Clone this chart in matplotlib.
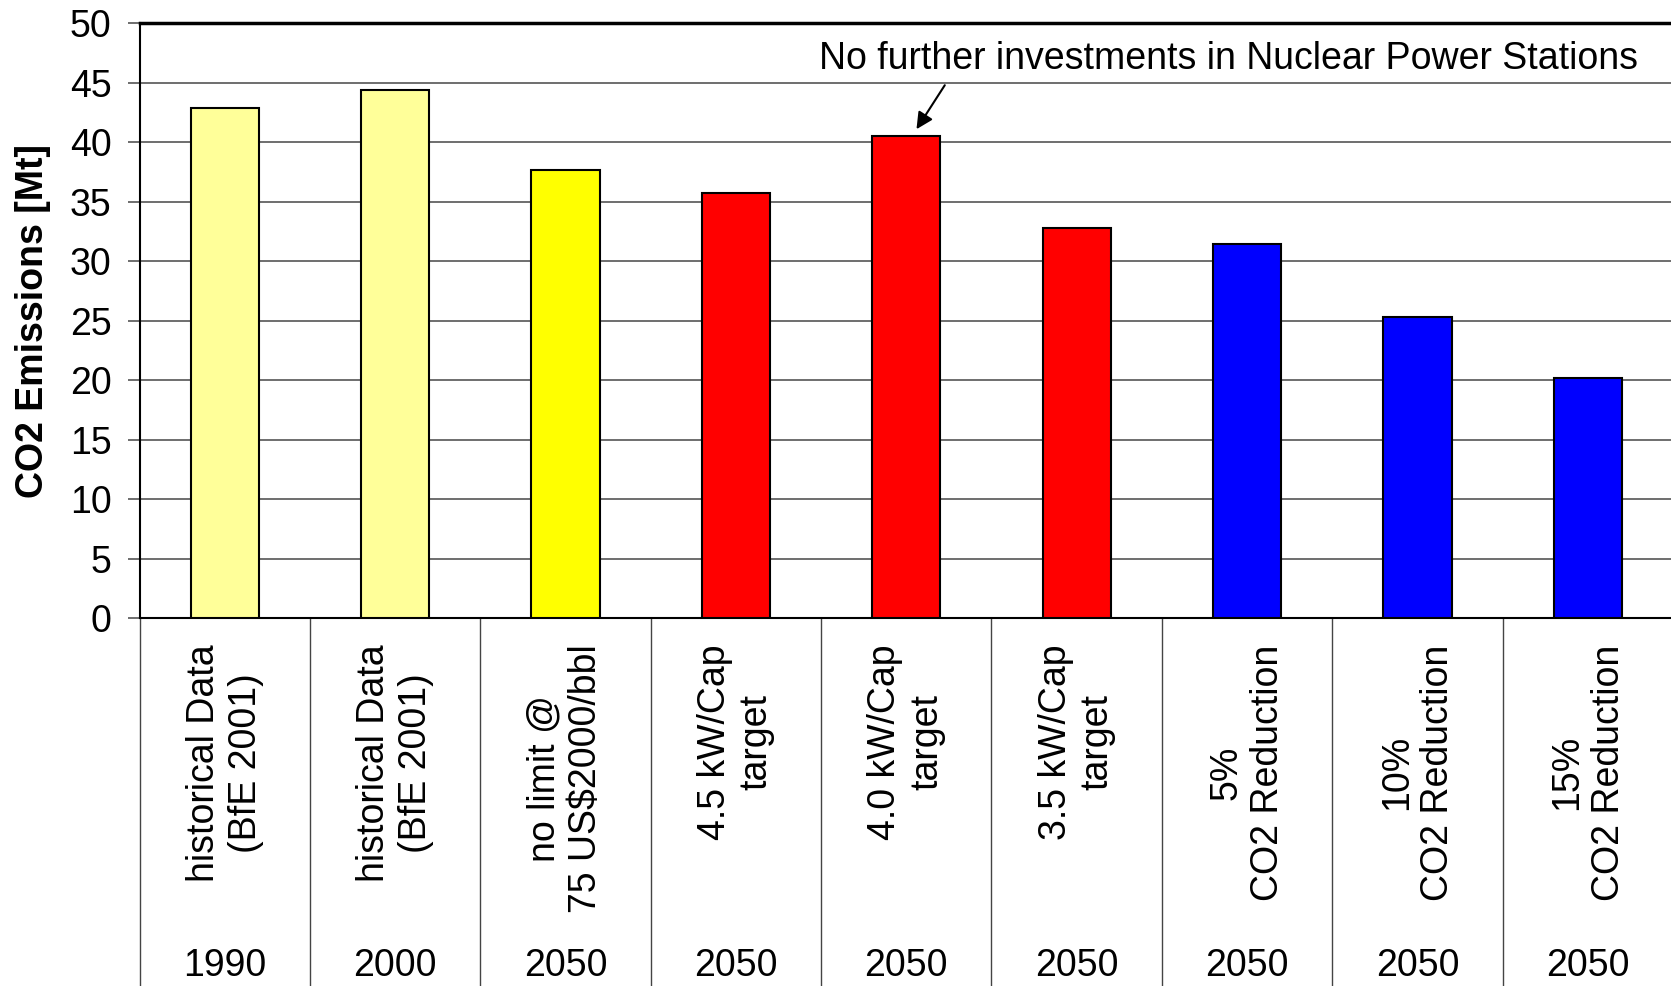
import numpy as np
import matplotlib
matplotlib.use("Agg")
import matplotlib.pyplot as plt

plt.rcParams['font.family'] = ['Liberation Sans', 'DejaVu Sans']

labels = ['historical Data\n(BfE 2001)', 'historical Data\n(BfE 2001)',
          'no limit @\n75 US$2000/bbl', '4.5 kW/Cap\ntarget', '4.0 kW/Cap\ntarget',
          '3.5 kW/Cap\ntarget', '5%\nCO2 Reduction', '10%\nCO2 Reduction',
          '15%\nCO2 Reduction']
years = ['1990', '2000', '2050', '2050', '2050', '2050', '2050', '2050', '2050']
emissions = [42.9, 44.4, 37.7, 35.7, 40.5, 32.8, 31.45, 25.3, 20.15]
colors = ['#FFFF99', '#FFFF99', '#FFFF00', '#FF0000', '#FF0000', '#FF0000',
          '#0000FF', '#0000FF', '#0000FF']

fig = plt.figure(figsize=(16.71, 9.86), dpi=100)
ax = fig.add_axes([0.0835, 0.3732, 0.9177, 0.6031])

x = np.arange(len(labels))
ax.bar(x, emissions, width=0.4, color=colors, edgecolor='black', linewidth=1.5, zorder=3)

ax.set_xlim(-0.5, len(labels) - 0.5)
ax.set_ylim(0, 50)
ax.set_yticks(np.arange(0, 51, 5))
ax.yaxis.grid(True, color='#555555', linewidth=1.2, zorder=0)
ax.tick_params(axis='y', labelsize=27, length=9, width=1.2, pad=11, color='#555555')

# category separators drawn as long major ticks, labels on minor ticks
ax.set_xticks(np.arange(len(labels) + 1) - 0.5)
ax.set_xticklabels([])
ax.set_xticks(x, minor=True)
ax.set_xticklabels(labels, minor=True, rotation=90, fontsize=27, linespacing=1.2)
ax.tick_params(axis='x', which='major', length=266, width=1.0, color='#444444')
ax.tick_params(axis='x', which='minor', length=0, pad=19)

for i, yr in enumerate(years):
    ax.text(i, -0.585, yr, transform=ax.get_xaxis_transform(), ha='center', va='center',
            fontsize=27, clip_on=False)

ax.set_ylabel('CO2 Emissions [Mt]', fontsize=27, fontweight='bold')
ax.yaxis.set_label_coords(-0.058, 0.5)

for s in ['left', 'bottom']:
    ax.spines[s].set_linewidth(1.5)
ax.spines['top'].set_linewidth(2.5)
ax.spines['right'].set_visible(False)

ax.text(5.89, 47.0, 'No further investments in Nuclear Power Stations', ha='center',
        va='center', fontsize=27, clip_on=False, zorder=5)
ax.annotate('', xy=(4.06, 41.1), xytext=(4.226, 44.8),
            arrowprops=dict(arrowstyle='-|>', color='black', lw=1.5,
                            mutation_scale=25, shrinkA=0, shrinkB=0), zorder=5)

fig.savefig('out.png', dpi=100)
